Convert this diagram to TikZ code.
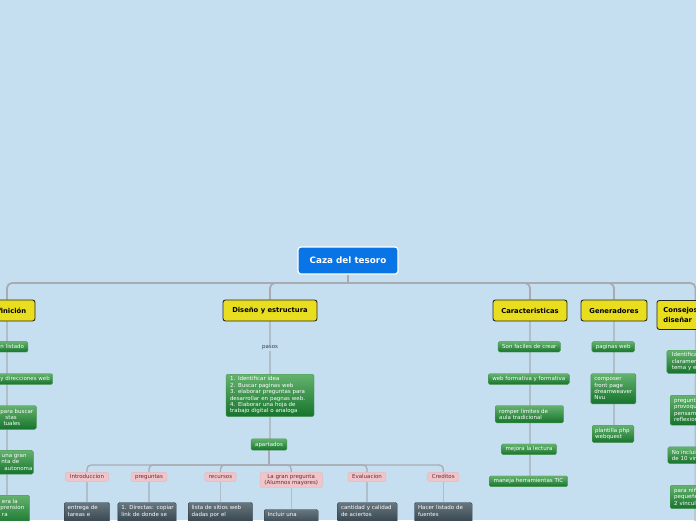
\documentclass[tikz,border=0pt]{standalone}
\usepackage{fontspec}
\setmainfont{DejaVu Sans}
\definecolor{bg}{RGB}{197,223,240}
\definecolor{rootblue}{RGB}{8,116,230}
\definecolor{topicyellow}{RGB}{232,221,30}
\definecolor{topicborder}{RGB}{40,40,40}
\definecolor{gtop}{RGB}{100,178,110}
\definecolor{gbot}{RGB}{22,116,44}
\definecolor{gborder}{RGB}{70,150,80}
\definecolor{pinkfill}{RGB}{238,198,202}
\definecolor{pinkborder}{RGB}{228,184,190}
\definecolor{pinktext}{RGB}{110,40,52}
\definecolor{dtop}{RGB}{104,118,128}
\definecolor{dbot}{RGB}{40,55,65}
\definecolor{mainline}{RGB}{168,172,178}
\definecolor{sublinec}{RGB}{176,190,204}
\definecolor{pasostext}{RGB}{55,62,72}
\pgfdeclarelayer{lines}
\pgfsetlayers{lines,main}
\tikzset{
  smallfont/.style={font=\fontsize{5.5}{6.4}\selectfont},
  rootbox/.style={draw=white, line width=1.2pt, fill=rootblue, rounded corners=3pt, text=white,
    font=\fontsize{8.8}{10}\selectfont\bfseries, inner sep=0pt},
  topic/.style={draw=topicborder, line width=0.9pt, fill=topicyellow, rounded corners=2.5pt,
    font=\fontsize{6.8}{9.7}\selectfont\bfseries, text=black, minimum height=21pt, inner sep=0pt},
  gbox/.style={smallfont, top color=gtop, bottom color=gbot, draw=gborder, line width=0.4pt,
    rounded corners=1.5pt, text=white, inner xsep=4pt, inner ysep=2.5pt},
  pbox/.style={smallfont, fill=pinkfill, draw=pinkborder, line width=0.4pt, rounded corners=1.5pt,
    text=pinktext, inner xsep=4pt, inner ysep=1.5pt, minimum height=9pt},
  dbox/.style={smallfont, top color=dtop, bottom color=dbot, draw=dbot, line width=0.4pt,
    rounded corners=1.5pt, text=white, inner xsep=3.5pt, inner ysep=3.2pt, align=left, anchor=north west},
  lbox/.style={gbox, align=left, anchor=north west},
  frag/.style={smallfont, text=white, inner sep=0pt, align=left, anchor=west},
  pasosstyle/.style={smallfont, text=pasostext, inner sep=1pt},
  busline/.style={draw=mainline, line width=1.8pt},
  bus2/.style={draw=mainline, line width=1.3pt},
  subline/.style={draw=sublinec, line width=1.2pt},
}
\begin{document}
\begin{tikzpicture}[x=1pt,y=-1pt]
\useasboundingbox (0,0) rectangle (696,520);
\clip (0,0) rectangle (696,520);

% root
\node[rootbox, minimum width=100pt, minimum height=27pt] (root) at (348,260.5) {Caza del tesoro};
\coordinate (rj) at (348,283);

% main topics
\node[topic, minimum width=56pt] (def) at (7,310.5) {Definición};
\node[topic, minimum width=94pt] (dis) at (270,310.5) {Diseño y estructura};
\node[topic, minimum width=74pt] (car) at (530,310.5) {Caracteristicas};
\node[topic, minimum width=66pt] (gen) at (614,310.5) {Generadores};
\node[topic, minimum height=29pt, text width=64pt, inner xsep=6.5pt, align=left, anchor=north west] (con) at (656.5,300) {Consejos para\\diseñar};

% Definicion children (clipped at left edge)
\node[gbox, minimum width=42pt, minimum height=10.4pt] (d1) at (7,346.8) {};
\node[gbox, minimum width=91.4pt, minimum height=10.6pt] (d2) at (7,379) {};
\node[gbox, minimum width=58.6pt, minimum height=23.8pt] (d3) at (7,417.4) {};
\node[gbox, minimum width=52.6pt, minimum height=23.7pt] (d4) at (7,462.2) {};
\node[gbox, minimum width=45.4pt, minimum height=30pt] (d5) at (7,510.3) {};
\node[frag] (t1) at (0.3,346.8) {n listado};
\node[frag] (t2) at (0.3,379) {y direcciones web};
\node[frag] (t3) at (0.3,417.4) {para buscar\\\hspace*{5pt}stas\\\hspace*{3pt}tuales};
\node[frag] (t4) at (0.3,462.2) {\hspace*{1.4pt}una gran\\\hspace*{1pt}nta de\\\hspace*{4pt}autonoma};
\node[frag] (t5) at (0.3,507.9) {\hspace*{1.5pt}era la\\prension\\\hspace*{1.5pt}ra};

% Diseno y estructura
\node[pasosstyle] (pasos) at (270,348) {pasos};
\node[gbox, align=left, text width=80pt, anchor=north] (pas) at (270,374) {1. Identificar idea\\2. Buscar paginas web\\3. elaborar preguntas para\\desarrollar en pagnas web.\\4. Elaborar una hoja de\\trabajo digital o analoga};
\node[gbox, minimum width=35pt, minimum height=11.4pt] (apa) at (269,444.5) {apartados};
\coordinate (aj) at (269,465);

\node[pbox, minimum width=43.3pt] (p1) at (87,476.8) {Introduccion};
\node[pbox, minimum width=35.7pt] (p2) at (149,476.8) {preguntas};
\node[pbox, minimum width=31pt] (p3) at (220.5,476.8) {recursos};
\node[pbox, minimum width=62.3pt, minimum height=15.7pt, align=center] (p4) at (291.2,479.9) {La gran pregunta\\(Alumnos mayores)};
\node[pbox, minimum width=37.4pt] (p5) at (367,476.8) {Evaluacion};
\node[pbox, minimum width=31.3pt] (p6) at (443.3,476.8) {Creditos};

\node[dbox, text width=38.3pt] (k1) at (64,502.3) {\mbox{entrega de}\\tareas e\\\strut};
\node[dbox, text width=51.3pt] (k2) at (117.7,502.3) {\mbox{1. Directas: copiar}\\\mbox{link de donde se}\\\strut};
\node[dbox, text width=57.3pt] (k3) at (188,502.3) {\mbox{lista de sitios web}\\dadas por el\\\strut};
\node[dbox, text width=47pt] (k4) at (264,509.3) {Incluir una\\\strut};
\node[dbox, text width=52.7pt] (k5) at (337.3,502.3) {\mbox{cantidad y calidad}\\de aciertos\\\strut};
\node[dbox, text width=50.7pt] (k6) at (414.3,502.3) {\mbox{Hacer listado de}\\fuentes\\\strut};

% Caracteristicas
\node[gbox, minimum width=62pt, minimum height=10.4pt] (c1) at (529.3,346.8) {Son faciles de crear};
\node[gbox, minimum width=81pt, minimum height=10.6pt] (c2) at (528.8,379) {web formativa y formativa};
\node[lbox, text width=60.3pt, minimum height=17.4pt] (c3) at (495,405.3) {romper limites de\\aula tradicional};
\node[gbox, minimum width=54.6pt, minimum height=10.7pt] (c4) at (529,449.3) {mejora la lectura};
\node[gbox, minimum width=78.4pt, minimum height=10.7pt] (c5) at (528.5,481.3) {maneja herramientas TIC};

% Generadores
\node[gbox, minimum width=42.3pt, minimum height=10.4pt] (g1) at (613.2,346.8) {paginas web};
\node[lbox, text width=38pt, inner xsep=3.5pt, minimum height=30.4pt] (g2) at (590.7,373.3) {composer\\front page\\dreamweaver\\Nvu};
\node[lbox, text width=35.7pt, inner xsep=3pt, minimum height=17.3pt] (g3) at (592,425) {\mbox{plantilla php}\\webquest};

% Consejos para disenar (clipped at right edge)
\node[lbox, text width=50pt, inner xsep=5pt, minimum height=22.7pt] (s1) at (666.7,350) {Identifica\\claramen\\tema y el};
\node[lbox, text width=50pt, inner xsep=4pt, minimum height=30pt] (s2) at (670,395) {pregunt\\provoqu\\pensami\\reflexion};
\node[lbox, text width=50pt, inner xsep=4pt, minimum height=16.6pt] (s3) at (667.7,446.7) {No inclui\\de 10 vin};
\node[lbox, text width=50pt, inner xsep=4pt, minimum height=23.3pt] (s4) at (670,485) {para niñ\\pequeño\\2 vincul};
\coordinate (conend) at (695,525);

\begin{pgfonlayer}{lines}
  \fill[bg] (0,0) rectangle (696,520);
  \begin{scope}
  \clip (0,0) rectangle (696,520);
  \draw[busline] (root.south) -- (rj);
  \foreach \n in {def,dis,car,gen,con}
    \draw[busline, rounded corners=5pt] (\n.north) |- (rj);
  % Definicion
  \draw[subline] (def.south) -- (d5.north);
  % Diseno
  \draw[subline] (dis.south) -- (pasos.north);
  \draw[subline] (pasos.south) -- (pas.north);
  \draw[subline] (pas.south) -- (pas.south |- apa.north);
  \draw[bus2] (apa.south) -- (aj);
  \foreach \n in {p1,p2,p3,p4,p5,p6}
    \draw[bus2, rounded corners=4pt] (\n.north) |- (aj);
  \draw[subline] (p1.south) -- (p1.south |- k1.north);
  \draw[subline] (p2.south) -- (p2.south |- k2.north);
  \draw[subline] (p3.south) -- (p3.south |- k3.north);
  \draw[subline] (p4.south) -- (p4.south |- k4.north);
  \draw[subline] (p5.south) -- (p5.south |- k5.north);
  \draw[subline] (p6.south) -- (p6.south |- k6.north);
  % Caracteristicas
  \draw[subline] (car.south) -- (car.south |- c5.north);
  % Generadores
  \draw[subline] (gen.south) -- (gen.south |- g3.north);
  % Consejos
  \draw[subline] (con.south) -- (conend);
  \end{scope}
\end{pgfonlayer}
\end{tikzpicture}
\end{document}
